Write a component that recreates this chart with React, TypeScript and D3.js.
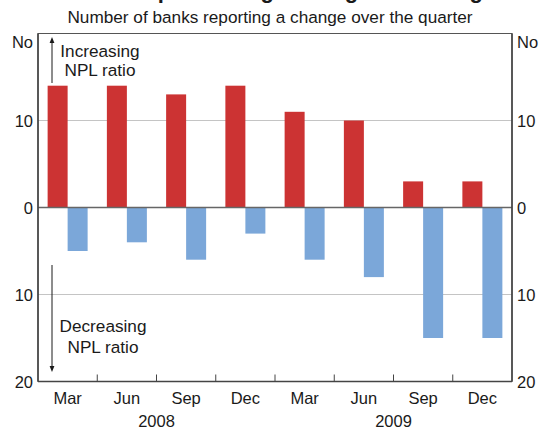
import React from "react";
import * as d3 from "d3";

const categories = ["Mar", "Jun", "Sep", "Dec", "Mar", "Jun", "Sep", "Dec"];
const years = ["2008", "2009"];
const increasing = [14, 14, 13, 14, 11, 10, 3, 3];
const decreasing = [5, 4, 6, 3, 6, 8, 15, 15];
const yTicks = [20, 10, 0, -10, -20];
const yTickLabels = ["No", "10", "0", "10", "20"];

const W = 540;
const H = 430;
const FONT = "Liberation Sans, Arial, sans-serif";
const RED = "#cc3333";
const BLUE = "#7ba7d9";

export default function App() {
  const left = 38, right = 512, top = 33.5, bottom = 381.5;
  const x = d3.scaleBand<number>().domain(d3.range(categories.length)).range([left, right]).padding(0);
  const y = d3.scaleLinear().domain([-20, 20]).range([bottom, top]);
  const bw = 20;
  const bandW = x.bandwidth();
  const textColor = "#1a1a1a";
  const fs = 16.5;

  return (
    <svg width={W} height={H} style={{ position: "absolute", left: 0, top: 0, background: "#fff" }} fontFamily={FONT}>
      <defs>
        <marker id="ah" viewBox="0 0 10 10" refX="5" refY="5" markerWidth="6" markerHeight="6" orient="auto-start-reverse">
          <path d="M0,1 L10,5 L0,9 z" fill="#1a1a1a" />
        </marker>
      </defs>
      {/* clipped title (only its lower edge is visible, as in the reference) */}
      <text x={W / 2} y={-2.5} textAnchor="middle" fontSize={22} fontWeight="bold" fill={textColor}>
        Banks' non-performing lending ratio changes
      </text>
      <text x={W / 2} y={23} textAnchor="middle" fontSize={17.2} fill={textColor}>
        Number of banks reporting a change over the quarter
      </text>

      {/* gridlines */}
      {[10, -10].map((v) => (
        <line key={v} x1={left} x2={right} y1={y(v)} y2={y(v)} stroke="#c4c4c4" strokeWidth={1.2} />
      ))}

      {/* bars */}
      {increasing.map((v, i) => (
        <rect key={"r" + i} x={x(i)! + bandW / 2 - bw} width={bw} y={y(v)} height={y(0) - y(v)} fill={RED} />
      ))}
      {decreasing.map((v, i) => (
        <rect key={"b" + i} x={x(i)! + bandW / 2} width={bw} y={y(0)} height={y(-v) - y(0)} fill={BLUE} />
      ))}

      {/* zero line */}
      <line x1={left} x2={right} y1={y(0)} y2={y(0)} stroke="#666" strokeWidth={1.6} />

      {/* frame */}
      <rect x={left} y={top} width={right - left} height={bottom - top} fill="none" stroke="#555" strokeWidth={1} />
      <line x1={left} x2={left} y1={top} y2={bottom} stroke="#444" strokeWidth={1.6} />
      <line x1={right} x2={right} y1={top} y2={bottom} stroke="#444" strokeWidth={1.6} />
      <line x1={left} x2={right} y1={bottom} y2={bottom} stroke="#444" strokeWidth={1.6} />

      {/* x ticks */}
      {d3.range(1, categories.length).map((i) => (
        <line key={"t" + i} x1={x(i)!} x2={x(i)!} y1={bottom - 7} y2={bottom} stroke="#444" strokeWidth={1} />
      ))}

      {/* y tick labels */}
      {yTicks.map((v, i) => (
        <g key={"yl" + i}>
          <text x={33} y={(i === 0 ? y(v) + 8 : y(v)) + 6} textAnchor="end" fontSize={fs} fill={textColor}>
            {yTickLabels[i]}
          </text>
          <text x={517} y={(i === 0 ? y(v) + 8 : y(v)) + 6} textAnchor="start" fontSize={fs} fill={textColor}>
            {yTickLabels[i]}
          </text>
        </g>
      ))}

      {/* x labels */}
      {categories.map((c, i) => (
        <text key={"c" + i} x={x(i)! + bandW / 2} y={404} textAnchor="middle" fontSize={fs} fill={textColor}>
          {c}
        </text>
      ))}
      {years.map((yr, k) => (
        <text key={yr} x={x(k * 4 + 2)!} y={427} textAnchor="middle" fontSize={fs} fill={textColor}>
          {yr}
        </text>
      ))}

      {/* annotations */}
      <line x1={52} x2={52} y1={83} y2={40} stroke="#1a1a1a" strokeWidth={1} markerEnd="url(#ah)" />
      <text x={100} y={57} textAnchor="middle" fontSize={17.2} fill={textColor}>Increasing</text>
      <text x={100} y={75.5} textAnchor="middle" fontSize={17.2} fill={textColor}>NPL ratio</text>

      <line x1={52} x2={52} y1={265} y2={369} stroke="#1a1a1a" strokeWidth={1} markerEnd="url(#ah)" />
      <text x={103} y={332} textAnchor="middle" fontSize={17.2} fill={textColor}>Decreasing</text>
      <text x={103} y={353} textAnchor="middle" fontSize={17.2} fill={textColor}>NPL ratio</text>
    </svg>
  );
}
